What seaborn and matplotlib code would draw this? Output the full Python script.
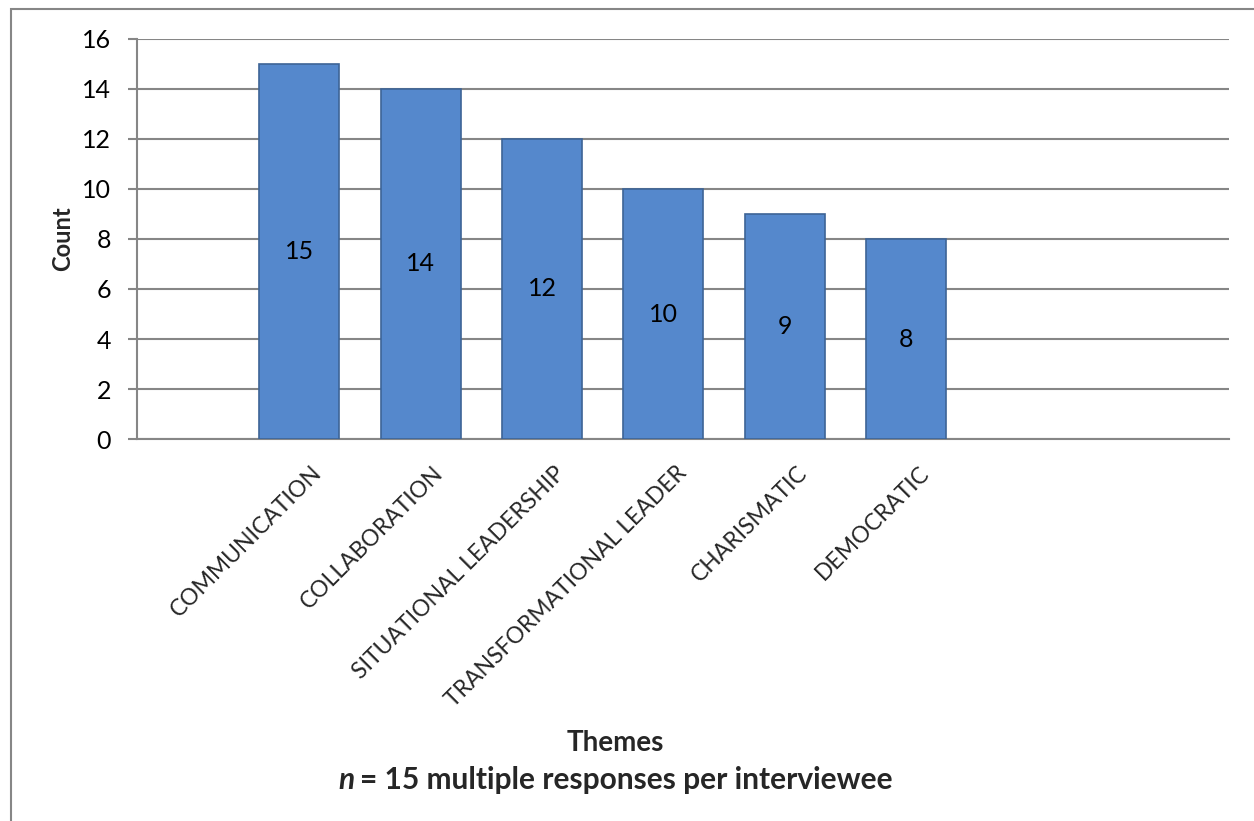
import numpy as np
import pandas as pd
import matplotlib
matplotlib.use("Agg")  # no display in the sandbox
import matplotlib.pyplot as plt
import matplotlib.transforms as mtransforms
from matplotlib.patches import Rectangle
from matplotlib.offsetbox import TextArea, HPacker, AnchoredOffsetbox
import seaborn as sns

# --- Data ---
themes = ["COMMUNICATION", "COLLABORATION", "SITUATIONAL LEADERSHIP",
          "TRANSFORMATIONAL LEADER", "CHARISMATIC", "DEMOCRATIC"]
counts = [15, 14, 12, 10, 9, 8]
y_ticks = [0, 2, 4, 6, 8, 10, 12, 14, 16]

df = pd.DataFrame({"theme": themes, "count": counts})

# --- Style ---
sns.set_theme(style="white")
plt.rcParams["font.family"] = ["Lato", "DejaVu Sans"]
grid_grey = "#868686"
bar_blue = "#5588CC"
bar_edge = "#3D6496"

fig = plt.figure(figsize=(12.54, 8.21), dpi=100)
ax = fig.add_axes([0.109, 0.465, 0.871, 0.488])

sns.barplot(data=df, x="theme", y="count", order=themes, color=bar_blue,
            saturation=1, width=0.66, edgecolor=bar_edge, linewidth=1.2,
            ax=ax, zorder=3)

# value labels in the middle of each bar
ax.bar_label(ax.containers[0], labels=[str(c) for c in counts],
             label_type="center", fontsize=18, color="black")

# axes limits: Excel leaves an empty slot on the left and more on the right
ax.set_xlim(-1.34, 7.66)
ax.set_ylim(0, 16)
ax.set_yticks(y_ticks)
ax.set_yticklabels([str(t) for t in y_ticks], fontsize=18)

ax.set_axisbelow(True)
ax.yaxis.grid(True, color=grid_grey, linewidth=1.5)
ax.xaxis.grid(False)

for side in ["top", "right"]:
    ax.spines[side].set_visible(False)
ax.spines["left"].set_color(grid_grey)
ax.spines["left"].set_linewidth(1.5)
ax.spines["bottom"].set_color(grid_grey)
ax.spines["bottom"].set_linewidth(1.5)

ax.tick_params(axis="y", left=True, length=6.5, width=1.5, color=grid_grey,
               pad=12, labelcolor="black")
ax.tick_params(axis="x", bottom=False, length=0, pad=22)

# rotated category labels, anchored at the slot centre (a bit right of the bar)
shift = mtransforms.ScaledTranslation(19.5 / 100, 0, fig.dpi_scale_trans)
ax.set_xticks(range(len(themes)))
ax.set_xticklabels(themes, rotation=45, ha="right", va="center",
                   rotation_mode="anchor", fontsize=16.5)
for lab in ax.get_xticklabels():
    lab.set_transform(lab.get_transform() + shift)

ax.set_xlabel("")
ax.set_ylabel("Count", fontsize=17, fontweight="bold")
ax.yaxis.set_label_coords(-0.057, 0.5)

# axis title: two lines, the n in bold italic
fig.text(0.491, 0.095, "Themes", ha="center", va="center",
         fontsize=20, fontweight="bold")
line2 = HPacker(children=[
    TextArea("n", textprops=dict(fontsize=21.5, fontweight="bold", style="italic")),
    TextArea("= 15 multiple responses per interviewee",
             textprops=dict(fontsize=21.5, fontweight="bold")),
], sep=4, pad=0, align="baseline")
box = AnchoredOffsetbox(loc="center", child=line2, pad=0, borderpad=0,
                        frameon=False, bbox_to_anchor=(0.491, 0.050),
                        bbox_transform=fig.transFigure)
fig.add_artist(box)

# outer chart border (only top and left edges fall inside the image)
fig.patches.append(Rectangle((11 / 1254, -0.05), 1.2, (821 - 9) / 821 + 0.05,
                             transform=fig.transFigure, fill=False,
                             edgecolor=grid_grey, linewidth=1.5))

fig.savefig("out.png", dpi=100)
plt.close(fig)
